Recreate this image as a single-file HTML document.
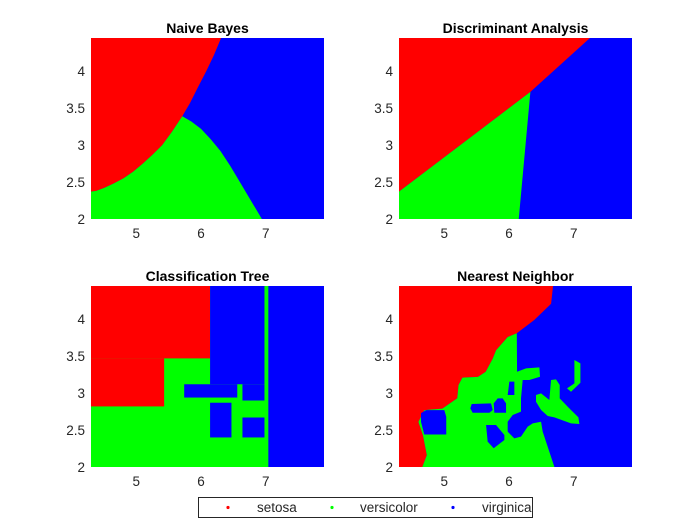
<!DOCTYPE html>
<html><head><meta charset="utf-8"><style>
body{margin:0;background:#fff;width:700px;height:525px;overflow:hidden}
svg{display:block;font-family:"Liberation Sans",Arial,sans-serif}
.t{font-size:13.5px;fill:#262626}
.ti{font-size:14px;font-weight:bold;fill:#000}
</style></head><body>
<svg id="fig" width="700" height="525"></svg>
<script>
// axis ranges
const xDomain=[4.3,7.9];
const yDomain=[2,4.45];
const xTicks=[5,6,7];
const yTicks=[2,2.5,3,3.5,4];
const yTickLabels=["2","2.5","3","3.5","4"];
const classNames=["setosa","versicolor","virginica"];
const classColors=["#ff0000","#00ff00","#0000ff"];
// Naive Bayes region boundaries (data coords)
const nbRed=[[4.3,4.45],[6.31,4.45],[6.2,4.22],[6.08,4.0],[5.95,3.78],[5.83,3.57],[5.71,3.39],[5.55,3.18],[5.4,3.0],[5.25,2.87],[5.1,2.75],[4.95,2.64],[4.8,2.55],[4.65,2.48],[4.5,2.42],[4.38,2.38],[4.3,2.37]];
const nbGreen=[[4.3,2.37],[4.38,2.38],[4.5,2.42],[4.65,2.48],[4.8,2.55],[4.95,2.64],[5.1,2.75],[5.25,2.87],[5.4,3.0],[5.55,3.18],[5.71,3.39],[5.85,3.32],[6.0,3.22],[6.15,3.08],[6.3,2.92],[6.45,2.72],[6.6,2.5],[6.75,2.28],[6.94,2.0],[4.3,2.0]];
// Discriminant analysis
const daRed=[[4.3,4.45],[7.25,4.45],[6.33,3.72],[4.3,2.37]];
const daGreen=[[4.3,2.37],[6.33,3.72],[6.15,2.0],[4.3,2.0]];
// Classification tree rectangles [x0,x1,y0,y1]
const ctRed=[[4.3,6.14,3.47,4.45],[4.3,5.43,2.82,3.47]];
const ctBlue=[[6.14,6.98,3.12,4.45],[5.74,6.56,2.94,3.12],[6.64,6.98,2.90,3.12],[6.14,6.47,2.40,2.87],[6.64,6.98,2.40,2.67],[7.04,7.9,2.0,4.45]];
// Nearest neighbour
const nnRed=[[4.3,4.45],[6.68,4.45],[6.65,4.21],[6.39,3.99],[6.12,3.81],[5.98,3.76],[5.80,3.58],[5.75,3.47],[5.64,3.29],[5.52,3.22],[5.28,3.21],[5.22,3.11],[5.20,2.93],[4.97,2.79],[4.69,2.77],[4.60,2.61],[4.67,2.43],[4.73,2.16],[4.66,2.0],[4.3,2.0]];
const nnGreen=[[6.12,3.81],[5.98,3.76],[5.80,3.58],[5.75,3.47],[5.64,3.29],[5.52,3.22],[5.28,3.21],[5.22,3.11],[5.20,2.93],[4.97,2.79],[4.69,2.77],[4.60,2.61],[4.67,2.43],[4.73,2.16],[4.66,2.0],[6.701,2.0],[6.520,2.478],[6.495,2.613],[6.366,2.591],[6.289,2.546],[6.185,2.411],[6.082,2.388],[5.979,2.478],[5.979,2.613],[6.057,2.704],[6.185,2.749],[6.185,2.929],[6.211,3.177],[6.314,3.177],[6.479,3.222],[6.469,3.349],[6.263,3.335],[6.124,3.290]];
const nnGreenArm=[[6.417,2.974],[6.495,2.997],[6.623,2.907],[6.649,3.177],[6.726,3.186],[6.783,3.110],[6.783,2.929],[6.907,2.816],[7.072,2.672],[7.087,2.582],[6.958,2.591],[6.701,2.672],[6.598,2.690],[6.495,2.771],[6.417,2.884]];
const nnGreenTail=[[7.010,3.448],[7.103,3.403],[7.103,3.141],[6.958,3.019],[6.896,3.065],[7.010,3.132]];
const nnBlueIslands=[
 [[4.64,2.73],[4.72,2.77],[5.0,2.77],[5.03,2.68],[5.03,2.44],[4.69,2.44],[4.64,2.61]],
 [[5.423,2.853],[5.722,2.862],[5.748,2.771],[5.696,2.735],[5.438,2.735],[5.402,2.794]],
 [[5.825,2.929],[5.902,2.929],[5.954,2.862],[5.954,2.735],[5.773,2.735],[5.763,2.862]],
 [[6.005,3.155],[6.082,3.155],[6.082,2.974],[5.979,2.974]],
 [[5.645,2.568],[5.799,2.568],[5.928,2.433],[5.928,2.365],[5.763,2.253],[5.670,2.343]]
];

const NS="http://www.w3.org/2000/svg";
const fig=document.getElementById('fig');
function mk(tag,attrs,parent){const e=document.createElementNS(NS,tag);for(const k in attrs)e.setAttribute(k,attrs[k]);(parent||fig).appendChild(e);return e;}
function makeAxes(left,top,w,h){
  return {x:v=>left+(v-xDomain[0])/(xDomain[1]-xDomain[0])*w,
          y:v=>top+h-(v-yDomain[0])/(yDomain[1]-yDomain[0])*h,left,top,w,h};
}
function poly(ax,pts,color,g,name){
  const p=mk('polygon',{points:pts.map(q=>ax.x(q[0])+','+ax.y(q[1])).join(' '),fill:color},g);
  
  
}
function rect(ax,r,color,g,name){
  const e=mk('rect',{x:ax.x(r[0]),y:ax.y(r[3]),width:ax.x(r[1])-ax.x(r[0]),height:ax.y(r[2])-ax.y(r[3]),fill:color},g);
  
  
}
function panel(left,top,title,name,draw){
  const g=mk('g',{});
  
  
  const ax=makeAxes(left,top,233,181);
  const bg=mk('rect',{x:left,y:top,width:233,height:181,fill:classColors[2]},g);
  
  
  draw(ax,g);
  xTicks.forEach(v=>{const t=mk('text',{x:ax.x(v),y:top+181+19,'text-anchor':'middle',class:'t'},g);t.textContent=v;
    
    });
  yTicks.forEach((v,i)=>{const t=mk('text',{x:left-6,y:ax.y(v)+5,'text-anchor':'end',class:'t'},g);t.textContent=yTickLabels[i];
    
    });
  const tt=mk('text',{x:left+116.5,y:top-5,'text-anchor':'middle',class:'ti'},g);tt.textContent=title;
  
  
}
panel(91,38,'Naive Bayes','naive-bayes-panel',(ax,g)=>{poly(ax,nbRed,classColors[0],g,'setosa-region');poly(ax,nbGreen,classColors[1],g,'versicolor-region');});
panel(399,38,'Discriminant Analysis','discriminant-panel',(ax,g)=>{poly(ax,daRed,classColors[0],g,'setosa-region');poly(ax,daGreen,classColors[1],g,'versicolor-region');});
panel(91,286,'Classification Tree','tree-panel',(ax,g)=>{
  rect(ax,[xDomain[0],xDomain[1],yDomain[0],yDomain[1]],classColors[1],g,'versicolor-region');
  ctRed.forEach(r=>rect(ax,r,classColors[0],g,'setosa-region'));
  ctBlue.forEach(r=>rect(ax,r,classColors[2],g,'virginica-region'));
});
panel(399,286,'Nearest Neighbor','nearest-neighbor-panel',(ax,g)=>{
  poly(ax,nnRed,classColors[0],g,'setosa-region');
  poly(ax,nnGreen,classColors[1],g,'versicolor-region');
  poly(ax,nnGreenArm,classColors[1],g,'versicolor-region');
  poly(ax,nnGreenTail,classColors[1],g,'versicolor-region');
  nnBlueIslands.forEach(p=>poly(ax,p,classColors[2],g,'virginica-island'));
});
// legend
const lg=mk('g',{});


mk('rect',{x:198.5,y:497.5,width:334,height:20,fill:'#fff',stroke:'#262626','stroke-width':1},lg);
const dotX=[228,332,453], txtX=[257,360,482];
classNames.forEach((n,i)=>{
  const d=mk('circle',{cx:dotX[i],cy:507.5,r:1.6,fill:classColors[i]},lg);
  
  
  const t=mk('text',{x:txtX[i],y:512,class:'t',fill:'#000'},lg);t.textContent=n;
  
  
});
</script>
</body></html>
